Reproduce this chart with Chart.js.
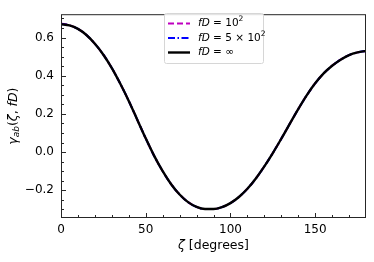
<!DOCTYPE html>
<html>
<head>
<meta charset="utf-8">
<script src="https://cdn.jsdelivr.net/npm/chart.js@4"></script>
<style>
  html, body { margin: 0; padding: 0; background: #fff; }
  #chart { display: block; }
</style>
</head>
<body>
<canvas id="chart" width="374" height="262"></canvas>
<script>
// ----------------------------------------------------------------
//  Data (zeta in degrees)
// ----------------------------------------------------------------
const zeta = [0, 5, 10, 15, 20, 25, 30, 35, 40, 45, 50, 55, 60, 65, 70, 75, 80, 85, 90,
              95, 100, 105, 110, 115, 120, 125, 130, 135, 140, 145, 150, 155, 160, 165, 170, 175, 180];

// the three curves sit on top of each other in the picture
const gamma100 = [0.674, 0.664, 0.645, 0.613, 0.567, 0.510, 0.440, 0.358, 0.268, 0.170, 0.072,
                  -0.020, -0.100, -0.168, -0.222, -0.262, -0.287, -0.298, -0.298,
                  -0.288, -0.267, -0.235, -0.192, -0.138, -0.075, -0.005, 0.070, 0.148, 0.225,
                  0.297, 0.360, 0.412, 0.452, 0.484, 0.508, 0.522, 0.530];
const gamma500 = [0.671, 0.663, 0.645, 0.613, 0.567, 0.510, 0.440, 0.358, 0.268, 0.170, 0.072,
                  -0.020, -0.100, -0.168, -0.222, -0.262, -0.287, -0.298, -0.298,
                  -0.288, -0.267, -0.235, -0.192, -0.138, -0.075, -0.005, 0.070, 0.148, 0.225,
                  0.297, 0.360, 0.412, 0.452, 0.484, 0.508, 0.522, 0.530];
const gammaInf = [0.670, 0.663, 0.645, 0.613, 0.567, 0.510, 0.440, 0.358, 0.268, 0.170, 0.072,
                  -0.020, -0.100, -0.168, -0.222, -0.262, -0.287, -0.298, -0.298,
                  -0.288, -0.267, -0.235, -0.192, -0.138, -0.075, -0.005, 0.070, 0.148, 0.225,
                  0.297, 0.360, 0.412, 0.452, 0.484, 0.508, 0.522, 0.530];

const legendLabels = ['fD = 10²', 'fD = 5 × 10²', 'fD = ∞'];

const xTicks = [0, 50, 100, 150];
const xMinor = [10, 20, 30, 40, 60, 70, 80, 90, 110, 120, 130, 140, 160, 170];
const yTicks = [-0.2, 0.0, 0.2, 0.4, 0.6];
const yMinor = [-0.3, -0.25, -0.15, -0.1, -0.05, 0.05, 0.1, 0.15, 0.25, 0.3, 0.35, 0.45, 0.5, 0.55, 0.65, 0.7];

const FONT = '"DejaVu Sans", sans-serif';
const pts = ys => zeta.map((z, i) => ({ x: z, y: ys[i] }));

// ----------------------------------------------------------------
//  Text helper: draws runs of [text, font, dy]
// ----------------------------------------------------------------
function drawRuns(ctx, x, y, runs) {
  runs.forEach(([t, f, dy]) => {
    ctx.font = f;
    ctx.fillText(t, x, y + (dy || 0));
    x += ctx.measureText(t).width;
  });
  return x;
}
function runsWidth(ctx, runs) {
  let w = 0;
  runs.forEach(([t, f]) => { ctx.font = f; w += ctx.measureText(t).width; });
  return w;
}
function labelRuns(label, size) {
  // 'fD' in italic, the rest upright, '²' drawn as a raised 2
  const runs = [['fD', `italic ${size}px ${FONT}`]];
  label.slice(2).split('²').forEach((part, i) => {
    if (i > 0) runs.push(['2', `${size * 0.72}px ${FONT}`, -size * 0.38]);
    if (part) runs.push([part, `${size}px ${FONT}`]);
  });
  return runs;
}

// ----------------------------------------------------------------
//  Spines, inward ticks, axis titles and legend
// ----------------------------------------------------------------
const decor = {
  id: 'decor',
  afterDraw(chart) {
    const { ctx, chartArea: a, scales: { x, y } } = chart;
    ctx.save();
    ctx.strokeStyle = '#262626';
    ctx.lineWidth = 1;
    ctx.strokeRect(a.left + 0.5, a.top + 0.5, a.right - a.left - 1, a.bottom - a.top - 1);

    ctx.beginPath();
    xTicks.forEach(v => { const p = Math.round(x.getPixelForValue(v)) + 0.5; ctx.moveTo(p, a.bottom); ctx.lineTo(p, a.bottom - 5); });
    xMinor.forEach(v => { const p = Math.round(x.getPixelForValue(v)) + 0.5; ctx.moveTo(p, a.bottom); ctx.lineTo(p, a.bottom - 3); });
    yTicks.forEach(v => { const p = Math.round(y.getPixelForValue(v)) + 0.5; ctx.moveTo(a.left, p); ctx.lineTo(a.left + 5, p); });
    yMinor.forEach(v => { const p = Math.round(y.getPixelForValue(v)) + 0.5; ctx.moveTo(a.left, p); ctx.lineTo(a.left + 3, p); });
    ctx.stroke();

    ctx.fillStyle = '#000';
    ctx.textBaseline = 'middle';

    // x title
    const xr = [['ζ', `italic 12.5px ${FONT}`], [' [degrees]', `12.5px ${FONT}`]];
    drawRuns(ctx, (a.left + a.right) / 2 - runsWidth(ctx, xr) / 2, 246, xr);

    // y title
    const yr = [['γ', `italic 12.5px ${FONT}`], ['ab', `italic 9px ${FONT}`, 3],
                ['(', `12.5px ${FONT}`], ['ζ', `italic 12.5px ${FONT}`], [', ', `12.5px ${FONT}`],
                ['fD', `italic 12.5px ${FONT}`], [')', `12.5px ${FONT}`]];
    ctx.save();
    ctx.translate(14, (a.top + a.bottom) / 2);
    ctx.rotate(-Math.PI / 2);
    drawRuns(ctx, -runsWidth(ctx, yr) / 2, 0, yr);
    ctx.restore();

    // legend
    const bx = 164.5, by = 13.5, bw = 99, bh = 50;
    ctx.fillStyle = 'rgba(255,255,255,0.85)';
    ctx.strokeStyle = '#d6d6d6';
    ctx.beginPath();
    ctx.roundRect(bx, by, bw, bh, 2);
    ctx.fill();
    ctx.stroke();
    chart.data.datasets.forEach((ds, i) => {
      const ly = 23.5 + i * 14.5;
      ctx.strokeStyle = ds.borderColor;
      ctx.lineWidth = ds.borderWidth;
      ctx.setLineDash(ds.borderDash || []);
      ctx.beginPath();
      ctx.moveTo(168, ly);
      ctx.lineTo(190, ly);
      ctx.stroke();
      ctx.setLineDash([]);
      ctx.fillStyle = '#000';
      drawRuns(ctx, 198, ly, labelRuns(legendLabels[i], 10.5));
    });
    ctx.restore();
  }
};

new Chart(document.getElementById('chart'), {
  type: 'line',
  data: {
    datasets: [
      { label: legendLabels[0], data: pts(gamma100), borderColor: '#bf00bf', borderWidth: 2, borderDash: [6, 3], order: 2 },
      { label: legendLabels[1], data: pts(gamma500), borderColor: '#0000ff', borderWidth: 2, borderDash: [7, 2.5, 1.5, 2.5], order: 1 },
      { label: legendLabels[2], data: pts(gammaInf), borderColor: '#000000', borderWidth: 2.4, order: 0 }
    ]
  },
  options: {
    responsive: false,
    animation: false,
    layout: { padding: { top: 7, right: 8, left: 0, bottom: 0 } },
    elements: { point: { radius: 0 }, line: { cubicInterpolationMode: 'monotone' } },
    plugins: { legend: { display: false }, tooltip: { enabled: false } },
    scales: {
      x: {
        type: 'linear', min: 0, max: 180,
        grid: { display: false, drawTicks: false },
        border: { display: false },
        afterBuildTicks: s => { s.ticks = xTicks.map(v => ({ value: v })); },
        afterFit: s => { s.height = 44; },
        ticks: { color: '#000', padding: 5, maxRotation: 0, font: { family: FONT, size: 12 }, callback: v => String(v) }
      },
      y: {
        type: 'linear', min: -0.345, max: 0.722,
        grid: { display: false, drawTicks: false },
        border: { display: false },
        afterBuildTicks: s => { s.ticks = yTicks.map(v => ({ value: v })); },
        afterFit: s => { s.width = 61; },
        ticks: { color: '#000', padding: 7, font: { family: FONT, size: 12 }, callback: v => v.toFixed(1).replace('-', '\u2212') }
      }
    }
  },
  plugins: [decor]
});
</script>
</body>
</html>
